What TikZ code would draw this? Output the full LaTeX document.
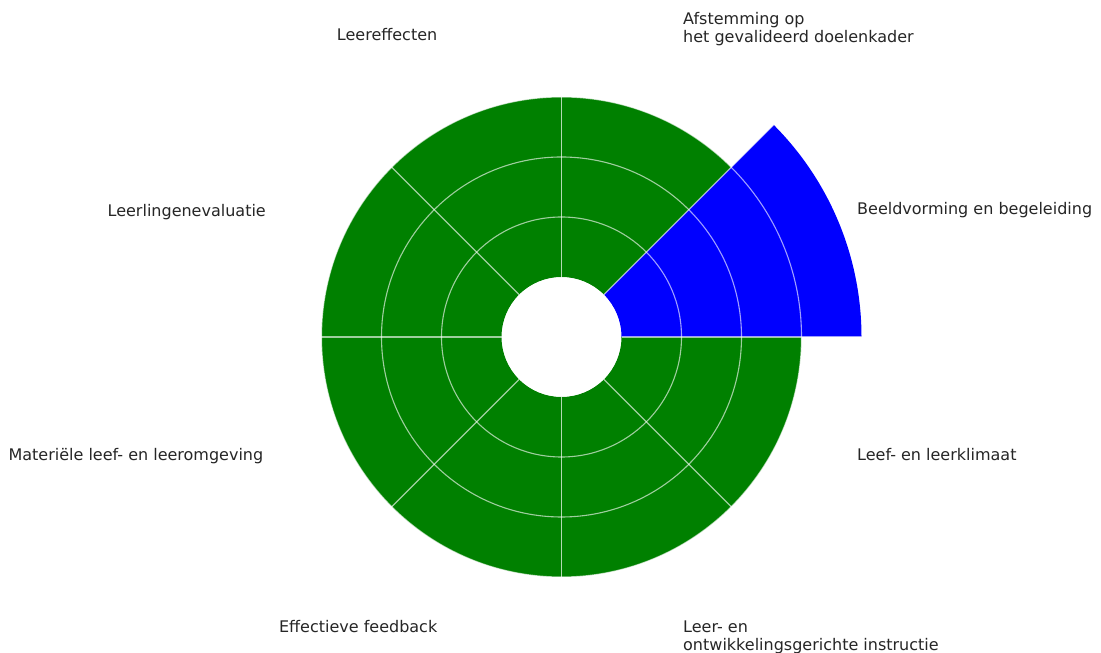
\documentclass[tikz,border=0pt]{standalone}
\usepackage{fontspec}
\setmainfont{DejaVu Sans}
\definecolor{mplgreen}{HTML}{008000}
\definecolor{mplblue}{HTML}{0000FF}
\begin{document}
\begin{tikzpicture}[x=1pt,y=1pt,
  lbl/.style={font=\fontsize{16}{18}\selectfont, text=black!85, inner sep=0pt},
  gridl/.style={draw=white, draw opacity=0.62, line width=1.1pt}]
\useasboundingbox[fill=white] (0,0) rectangle (1101,653);
\begin{scope}[shift={(561.5,316)}]
  % bars
  \foreach \a in {45,90,...,315}{
    \pgfmathsetmacro{\b}{\a+45}
    \fill[mplgreen] (\a:60) arc[start angle=\a, end angle=\b, radius=60]
      -- (\b:240) arc[start angle=\b, end angle=\a, radius=240] -- cycle;
  }
  \fill[mplblue] (0:60) arc[start angle=0, end angle=45, radius=60]
      -- (45:300) arc[start angle=45, end angle=0, radius=300] -- cycle;
  % grid
  \foreach \r in {120,180,240}{ \draw[gridl] (0,0) circle[radius=\r]; }
  \foreach \a in {0,45,...,315}{ \draw[gridl] (\a:60) -- (\a:300); }
  \fill[white] (0,0) circle[radius=59.5];
\end{scope}
% labels
\node[lbl, anchor=base west] (beeld) at (857,438) {Beeldvorming en begeleiding};
\node[lbl, anchor=base west, align=left] (afst) at (683,610) {Afstemming op\\het gevalideerd doelenkader};
\node[lbl, anchor=base east] (leer) at (437.5,612) {Leereffecten};
\node[lbl, anchor=base east] (evalu) at (266,436.5) {Leerlingenevaluatie};
\node[lbl, anchor=base east] (mater) at (263.5,192.5) {Materiële leef- en leeromgeving};
\node[lbl, anchor=base east] (feed) at (437.5,20) {Effectieve feedback};
\node[lbl, anchor=base west, align=left] (instr) at (683,2) {Leer- en\\ontwikkelingsgerichte instructie};
\node[lbl, anchor=base west] (klim) at (857,192.5) {Leef- en leerklimaat};
\end{tikzpicture}
\end{document}
